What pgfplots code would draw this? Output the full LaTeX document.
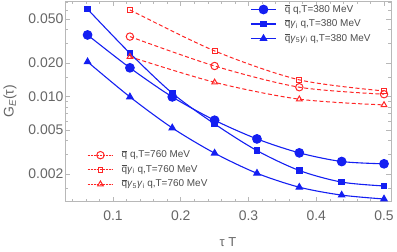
\documentclass[border=0pt]{standalone}
\usepackage{fontspec}
\setmainfont{Liberation Sans}
\usepackage{pgfplots}
\pgfplotsset{compat=1.18}
\definecolor{tickgray}{gray}{0.4}
\definecolor{framegray}{gray}{0.72}
\definecolor{legtext}{gray}{0.3}
\definecolor{myblue}{rgb}{0.08,0.12,0.95}
\definecolor{myred}{rgb}{1,0.15,0.15}
\begin{document}
\begin{tikzpicture}[x=1bp,y=1bp]
\path[use as bounding box] (-65,-50.5) rectangle (332,201.5);
\begin{axis}[
  scale only axis, width=326bp, height=200.5bp,
  ymode=log, xmin=0.0292, xmax=0.5103, ymin=0.00113, ymax=0.0724,
  legend image code/.code={\draw[mark repeat=2,mark phase=2] plot coordinates {(0bp,0bp) (12.75bp,0bp) (25.5bp,0bp)};},
  xtick={0.1,0.2,0.3,0.4,0.5}, xticklabels={0.1,0.2,0.3,0.4,0.5},
  minor xtick={0.04,0.06,0.08,0.12,0.14,0.16,0.18,0.22,0.24,0.26,0.28,0.32,0.34,0.36,0.38,0.42,0.44,0.46,0.48},
  ytick={0.002,0.005,0.01,0.02,0.05}, yticklabels={0.002,0.005,0.010,0.020,0.050},
  minor ytick={0.0015,0.003,0.004,0.006,0.007,0.008,0.009,0.015,0.03,0.04,0.06,0.07},
  tick align=inside, tick pos=both, major tick length=5bp, minor tick length=3bp,
  every tick/.style={framegray, line width=0.6bp},
  axis line style={framegray, line width=0.8bp},
  ticklabel style={font=\fontsize{14}{16}\selectfont, text=tickgray},
  yticklabel style={inner xsep=1.5bp},
  xticklabel style={inner ysep=4bp, yshift=-5bp},
  xlabel={τ T}, ylabel={G\textsubscript{\textit{E}}(τ)},
  xlabel style={at={(rel axis cs:0.5,-0.202)}, anchor=center, font=\fontsize{13}{15}\selectfont, text=tickgray},
  ylabel style={at={(rel axis cs:-0.1687,0.5)}, anchor=center, font=\fontsize{14}{16}\selectfont, text=tickgray},
  legend style={draw=none, fill=none, inner sep=0pt, row sep=4.5bp, column sep=8bp,
    font=\fontsize{10}{12}\selectfont, text=legtext,
    nodes={inner sep=0pt, text height=7.5bp, text depth=2.5bp},
    at={(rel axis cs:0.5675,0.9835)}, anchor=north west},
  legend cell align=left,
]
\addplot[myblue, line width=1.1bp, smooth, mark=*, mark size=4.3bp] coordinates {
 (0.0625,0.0358)(0.125,0.0181)(0.1875,0.0099)(0.25,0.0061)(0.3125,0.00414)(0.375,0.00310)(0.4375,0.00259)(0.5,0.00247)};
\addlegendentry{$\overline{\mbox{q}}$ q,T=380 MeV}
\addplot[myblue, line width=1.1bp, smooth, mark=square*, mark size=2.7bp] coordinates {
 (0.0625,0.0611)(0.125,0.0245)(0.1875,0.0107)(0.25,0.00565)(0.3125,0.00325)(0.375,0.00215)(0.4375,0.00169)(0.5,0.00156)};
\addlegendentry{$\overline{\mbox{q}}$\textit{γ}\textsubscript{i} q,T=380 MeV}
\addplot[myblue, line width=1.1bp, smooth, mark=triangle*, mark size=3.6bp] coordinates {
 (0.0625,0.0205)(0.125,0.0099)(0.1875,0.0052)(0.25,0.00308)(0.3125,0.00203)(0.375,0.00152)(0.4375,0.00129)(0.5,0.00119)};
\addlegendentry{$\overline{\mbox{q}}$\textit{γ}\textsubscript{5}\textit{γ}\textsubscript{i} q,T=380 MeV}
\end{axis}
\begin{axis}[
  scale only axis, width=326bp, height=200.5bp,
  ymode=log, xmin=0.0292, xmax=0.5103, ymin=0.00113, ymax=0.0724,
  hide axis,
  legend image code/.code={\draw[mark repeat=2,mark phase=2] plot coordinates {(0bp,0bp) (12.75bp,0bp) (25.5bp,0bp)};},
  legend style={draw=none, fill=none, inner sep=0pt, row sep=4.5bp, column sep=8bp,
    font=\fontsize{10}{12}\selectfont, text=legtext,
    nodes={inner sep=0pt, text height=7.5bp, text depth=2.5bp},
    at={(rel axis cs:0.0675,0.257)}, anchor=north west},
  legend cell align=left,
  legend image post style={dash pattern=on 1.8bp off 1.2bp},
]
\addplot[myred, line width=1bp, smooth, dash pattern=on 4bp off 2.5bp, mark=o, mark size=3.7bp, mark options={solid}] coordinates {
 (0.125,0.0346)(0.25,0.0188)(0.375,0.0121)(0.5,0.01047)};
\addlegendentry{$\overline{\mbox{q}}$ q,T=760 MeV}
\addplot[myred, line width=1bp, smooth, dash pattern=on 4bp off 2.5bp, mark=square, mark size=2.4bp, mark options={solid}] coordinates {
 (0.125,0.0602)(0.25,0.0257)(0.375,0.0141)(0.5,0.0112)};
\addlegendentry{$\overline{\mbox{q}}$\textit{γ}\textsubscript{i} q,T=760 MeV}
\addplot[myred, line width=1bp, smooth, dash pattern=on 4bp off 2.5bp, mark=triangle, mark size=3.2bp, mark options={solid}] coordinates {
 (0.125,0.0228)(0.25,0.0134)(0.375,0.00944)(0.5,0.00838)};
\addlegendentry{$\overline{\mbox{q}}$\textit{γ}\textsubscript{5}\textit{γ}\textsubscript{i} q,T=760 MeV}
\end{axis}
\end{tikzpicture}
\end{document}
